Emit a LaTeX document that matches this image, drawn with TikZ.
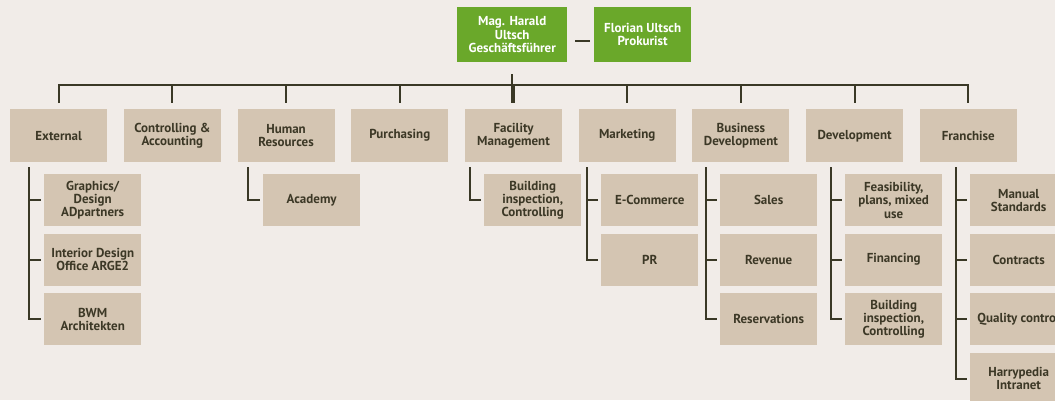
\documentclass[tikz,border=0pt]{standalone}
\usepackage{fontspec}
\setmainfont{PT Sans}[BoldFont={PT Sans Bold}]
\usetikzlibrary{calc}
\definecolor{bg}{RGB}{241,236,232}
\definecolor{boxc}{RGB}{212,197,178}
\definecolor{grn}{RGB}{106,168,42}
\definecolor{txt}{RGB}{60,56,38}
\definecolor{ln}{RGB}{58,56,38}
\tikzset{
  x=1pt, y=-1pt,
  base/.style={anchor=north west, align=center, inner sep=0pt,
    font=\bfseries\fontsize{13}{13.3}\selectfont},
  unit/.style={base, fill=boxc, text=txt, minimum width=97pt, minimum height=53pt},
  sub/.style={base, fill=boxc, text=txt, minimum width=97pt, minimum height=52pt},
  head/.style={base, fill=grn, text=white, minimum height=55pt},
  conn/.style={draw=ln, line width=2pt, line cap=butt, line join=miter}
}
\begin{document}
\begin{tikzpicture}
\fill[bg] (0,0) rectangle (1055,400);
\useasboundingbox (0,0) rectangle (1055,400);
\clip (0,0) rectangle (1055,400);

% heads
\node[head, minimum width=110pt] (mag) at (457,7) {Mag. Harald\\Ultsch\\Geschäftsführer};
\node[head, minimum width=97pt] (flo) at (594,7) {Florian Ultsch\\Prokurist};
\draw[conn] ($(mag.east)+(8,6.5)$) -- ($(flo.west)+(-4,6.5)$);

% level 1
\node[unit] (ext) at (10,109) {External};
\node[unit] (con) at (123.7,109) {Controlling \&\\Accounting};
\node[unit] (hr)  at (237.4,109) {Human\\Resources};
\node[unit] (pur) at (351.1,109) {Purchasing};
\node[unit] (fac) at (464.8,109) {Facility\\Management};
\node[unit] (mar) at (578.5,109) {Marketing};
\node[unit] (bus) at (692.2,109) {Business\\Development};
\node[unit] (dev) at (805.9,109) {Development};
\node[unit] (fra) at (919.6,109) {Franchise};

\coordinate (busy) at (0,85);
\draw[conn] ($(mag.south)+(0,12)$) -- ($(mag.south)+(0,41)$);
\draw[conn] ($(ext.north)+(0,-6)$) |- (busy -| fra.north) -- ($(fra.north)+(0,-6)$);
\foreach \n in {con,hr,pur,fac,mar,bus,dev}
  \draw[conn] (\n.north |- busy) -- ($(\n.north)+(0,-6)$);

% children
\node[sub] (e1) at (44,174) {Graphics/\\Design\\ADpartners};
\node[sub] (e2) at (44,233.5) {Interior Design\\Office ARGE2};
\node[sub] (e3) at (44,293) {BWM\\Architekten};
\coordinate (le) at (29,167);
\foreach \c in {e1,e2,e3} \draw[conn] (le) |- ($(\c.west)+(-3,0)$);

\node[sub] (h1) at (263,174) {Academy};
\coordinate (lh) at (248,167);
\draw[conn] (lh) |- ($(h1.west)+(-3,0)$);

\node[sub] (f1) at (484,174) {Building\\inspection,\\Controlling};
\coordinate (lf) at (470,167);
\draw[conn] (lf) |- ($(f1.west)+(-3,0)$);

\node[sub] (m1) at (601,174) {E-Commerce};
\node[sub] (m2) at (601,233.5) {PR};
\coordinate (lm) at (587,167);
\foreach \c in {m1,m2} \draw[conn] (lm) |- ($(\c.west)+(-3,0)$);

\node[sub] (b1) at (720,174) {Sales};
\node[sub] (b2) at (720,233.5) {Revenue};
\node[sub] (b3) at (720,293) {Reservations};
\coordinate (lb) at (706,167);
\foreach \c in {b1,b2,b3} \draw[conn] (lb) |- ($(\c.west)+(-3,0)$);

\node[sub] (d1) at (845,174) {Feasibility,\\plans, mixed\\use};
\node[sub] (d2) at (845,233.5) {Financing};
\node[sub] (d3) at (845,293) {Building\\inspection,\\Controlling};
\coordinate (ld) at (831,167);
\foreach \c in {d1,d2,d3} \draw[conn] (ld) |- ($(\c.west)+(-3,0)$);

\node[sub] (r1) at (970,174) {Manual\\Standards};
\node[sub] (r2) at (970,233.5) {Contracts};
\node[sub] (r3) at (970,293) {Quality control};
\node[sub] (r4) at (970,352.5) {Harrypedia\\Intranet};
\coordinate (lr) at (956,167);
\foreach \c in {r1,r2,r3,r4} \draw[conn] (lr) |- ($(\c.west)+(-3,0)$);
\end{tikzpicture}
\end{document}
